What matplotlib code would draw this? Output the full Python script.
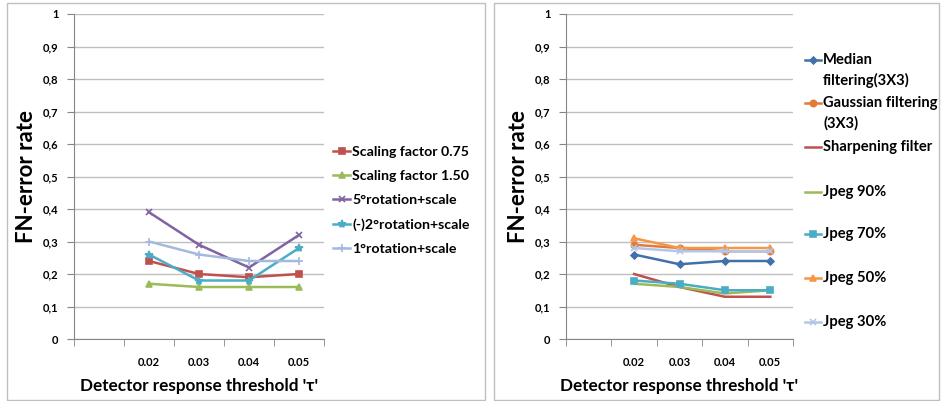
import matplotlib
matplotlib.use("Agg")
import matplotlib.pyplot as plt
from matplotlib.lines import Line2D
from matplotlib.patches import Rectangle

plt.rcParams['font.family'] = ['Lato', 'DejaVu Sans']
plt.rcParams['font.weight'] = 'bold'

# data
categories = ['', '0.02', '0.03', '0.04', '0.05']
yticks = [0, 0.1, 0.2, 0.3, 0.4, 0.5, 0.6, 0.7, 0.8, 0.9, 1]
ytick_labels = ['0', '0,1', '0,2', '0,3', '0,4', '0,5', '0,6', '0,7', '0,8', '0,9', '1']

scale_075 = [0.24, 0.20, 0.19, 0.20]
scale_150 = [0.17, 0.16, 0.16, 0.16]
rot_5 = [0.39, 0.29, 0.22, 0.32]
rot_m2 = [0.26, 0.18, 0.18, 0.28]
rot_1 = [0.30, 0.26, 0.24, 0.24]

median = [0.26, 0.23, 0.24, 0.24]
gaussian = [0.29, 0.28, 0.27, 0.27]
sharpen = [0.20, 0.16, 0.13, 0.13]
jpeg90 = [0.17, 0.16, 0.14, 0.15]
jpeg70 = [0.18, 0.17, 0.15, 0.15]
jpeg50 = [0.31, 0.28, 0.28, 0.28]
jpeg30 = [0.28, 0.27, 0.27, 0.27]

left_series = [
    ('Scaling factor 0.75', scale_075, '#C0504D', 's'),
    ('Scaling factor 1.50', scale_150, '#9BBB59', '^'),
    ('5°rotation+scale', rot_5, '#8064A2', 'x'),
    ('(-)2°rotation+scale', rot_m2, '#4BACC6', '*'),
    ('1°rotation+scale', rot_1, '#A3B9E0', '+'),
]
right_series = [
    ('Median\nfiltering(3X3)', median, '#4170AA', 'D'),
    ('Gaussian filtering\n(3X3)', gaussian, '#E07B39', 'o'),
    ('Sharpening filter', sharpen, '#C0504D', None),
    ('Jpeg 90%', jpeg90, '#9BBB59', None),
    ('Jpeg 70%', jpeg70, '#4BACC6', 's'),
    ('Jpeg 50%', jpeg50, '#F79646', '^'),
    ('Jpeg 30%', jpeg30, '#B3C6E7', 'x'),
]

W, H = 942, 401
fig = plt.figure(figsize=(W / 100, H / 100), dpi=100)

# panel frames
for x0, x1 in [(7, 485), (494, 939)]:
    fig.add_artist(Rectangle((x0 / W, 1 / H), (x1 - x0) / W, (H - 4) / H,
                             transform=fig.transFigure, fill=False,
                             edgecolor='#BFBFBF', linewidth=1.0))

msize = {'s': 5, '^': 5, 'x': 5, '*': 6, '+': 6, 'D': 3.5, 'o': 4.5}


def setup(ax):
    ax.set_xlim(-0.5, len(categories) - 0.5)
    ax.set_ylim(0, 1)
    ax.set_yticks(yticks)
    ax.set_yticklabels(ytick_labels, fontsize=8, fontweight='bold')
    ax.set_xticks(range(len(categories)))
    ax.set_xticklabels(categories, fontsize=8, fontweight='bold')
    ax.set_xticks([i - 0.5 for i in range(len(categories) + 1)], minor=True)
    ax.tick_params(axis='x', which='major', length=0, pad=13)
    ax.tick_params(axis='x', which='minor', length=5, color='#868686')
    ax.tick_params(axis='y', length=5, color='#868686', pad=6)
    ax.grid(axis='y', color='#BFBFBF', linewidth=1)
    ax.set_axisbelow(True)
    for s in ['top', 'right']:
        ax.spines[s].set_visible(False)
    for s in ['left', 'bottom']:
        ax.spines[s].set_color('#868686')
    ax.set_ylabel('FN-error rate', fontsize=16, fontweight='bold', labelpad=4)
    ax.set_xlabel("Detector response threshold 'τ'", fontsize=12.3, fontweight='bold',
                  labelpad=7)


def draw(ax, series):
    xs = range(1, len(categories))
    handles = []
    for label, vals, color, mk in series:
        ln, = ax.plot(xs, vals, color=color, linewidth=1.8, marker=mk,
                      markersize=msize.get(mk, 5), markeredgewidth=1.2,
                      label=label)
        handles.append(ln)
    return handles


axL = fig.add_axes([74 / W, 1 - 339 / H, 250 / W, 325 / H])
setup(axL)
draw(axL, left_series)
axL.legend(loc='upper left', bbox_to_anchor=(333 / W, 1 - 146 / H),
           bbox_transform=fig.transFigure, frameon=False,
           prop={'size': 10.2, 'weight': 'bold'}, handlelength=1.2,
           handletextpad=0.15, labelspacing=0.86, borderpad=0, borderaxespad=0)

axR = fig.add_axes([566 / W, 1 - 339 / H, 227 / W, 325 / H])
setup(axR)
hs = draw(axR, right_series)

# right legend, laid out by hand like the Excel one
leg_y = [60, 103, 147, 192, 234, 278, 322]
for h, (label, vals, color, mk), y in zip(hs, right_series, leg_y):
    yf = 1 - y / H
    fig.add_artist(Line2D([805 / W, 821 / W], [yf, yf], transform=fig.transFigure,
                          color=color, linewidth=1.8))
    if mk:
        fig.add_artist(Line2D([813 / W], [yf], transform=fig.transFigure,
                              color=color, marker=mk, markersize=msize.get(mk, 5),
                              markeredgewidth=1.2))
    for k, line in enumerate(label.split('\n')):
        fig.text(823 / W, 1 - (y + 20 * k) / H, line, fontsize=10.6,
                 fontweight='bold', va='center', ha='left')

fig.savefig('out.png', dpi=100)
